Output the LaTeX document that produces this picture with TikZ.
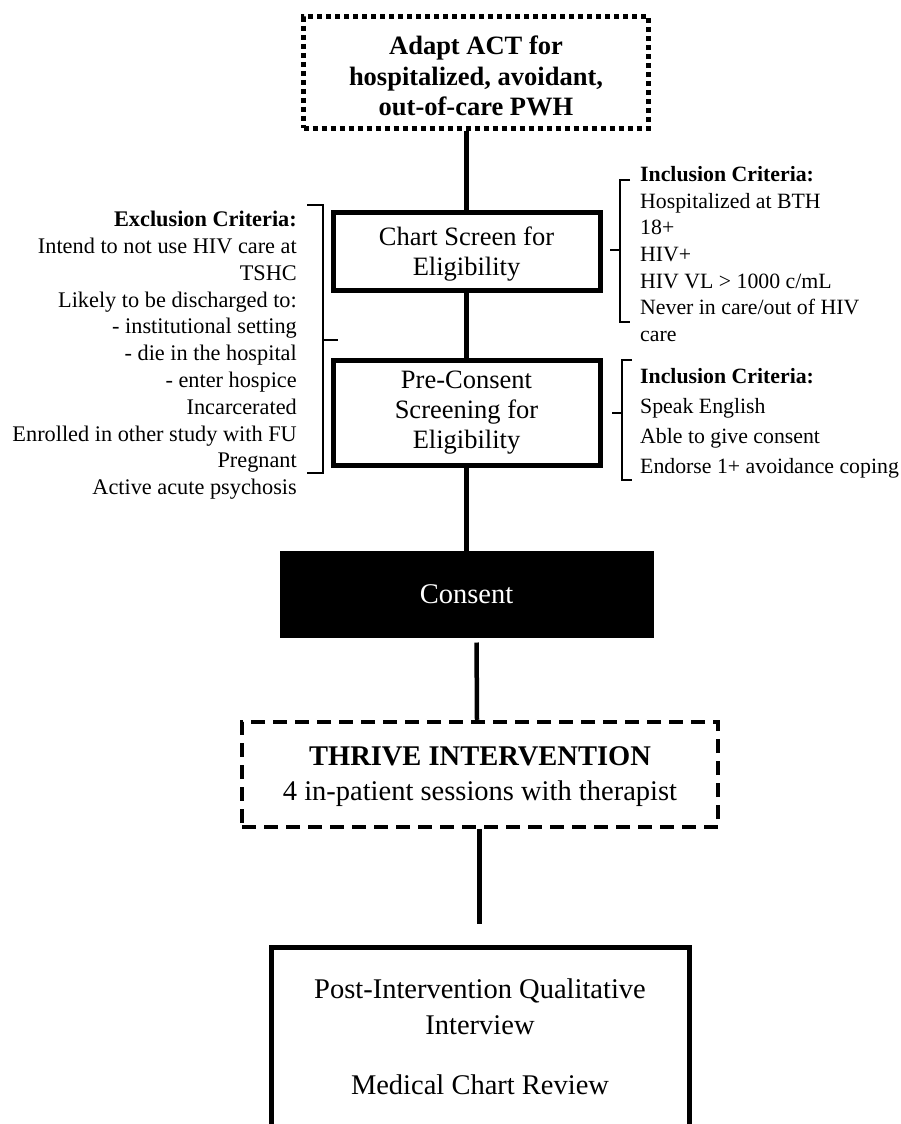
\documentclass[tikz,border=0pt]{standalone}
\usepackage{fontspec}
\setmainfont{Liberation Serif}
\usetikzlibrary{positioning, calc}

% taller first line, pushes the text of a box down a little
\newcommand{\raisestrut}[1]{\rule{0pt}{#1}}

\begin{document}
\begin{tikzpicture}[
    x=1pt, y=-1pt,
    wire/.style={
        draw=black,
        line width=5pt
    },
    box/.style={
        draw=black,
        line width=5pt,
        align=center,
        inner sep=0pt,
        font=\fontsize{26.5}{30}\selectfont
    },
    criteria/.style={
        inner sep=0pt,
        font=\fontsize{22.3}{26.8}\selectfont
    },
    bracket/.style={
        draw=black,
        line width=1.8pt
    }
]

\useasboundingbox (0,0) rectangle (901,1124);
\clip (0,0) rectangle (901,1124);

% ============================================================
% ADAPT
% ============================================================

\node[
    box,
    dash pattern=on 5pt off 4pt,
    minimum width=345pt,
    minimum height=111pt,
    font=\fontsize{26.5}{30.5}\selectfont\bfseries
] (adapt) at (476,72.5)
{\raisestrut{26pt}Adapt ACT for\\hospitalized, avoidant,\\out-of-care PWH};

% ============================================================
% SCREENING
% ============================================================

\node[
    box,
    minimum width=267pt,
    minimum height=78pt
] (chart) at (466.5,251)
{\raisestrut{24pt}Chart Screen for\\Eligibility};

\node[
    box,
    minimum width=267pt,
    minimum height=105pt
] (precons) at (466.5,412.5)
{Pre-Consent\\Screening for\\Eligibility};

% Exclusion
\node[
    criteria,
    align=right,
    anchor=north east
] (excl) at (297,211)
{\textbf{Exclusion Criteria:}\\
Intend to not use HIV care at\\
TSHC\\
Likely to be discharged to:\\
- institutional setting\\
- die in the hospital\\
- enter hospice\\
Incarcerated\\
Enrolled in other study with FU\\
Pregnant\\
Active acute psychosis};

\draw[bracket] (307,205) -- (323,205) -- (323,473) -- (307,473);
\draw[bracket] (323,340) -- (338,340);

% Inclusion
\node[
    criteria,
    align=left,
    anchor=north west,
    font=\fontsize{21.8}{26.7}\selectfont
] (incl1) at (640,166)
{\textbf{Inclusion Criteria:}\\
Hospitalized at BTH\\
18+\\
HIV+\\
HIV VL > 1000 c/mL\\
Never in care/out of HIV\\
care};

\draw[bracket] (630,180) -- (620,180) -- (620,322) -- (630,322);
\draw[bracket] (610,250) -- (620,250);

\node[
    criteria,
    align=left,
    anchor=north west,
    font=\fontsize{21.8}{30}\selectfont
] (incl2) at (640,368)
{\textbf{Inclusion Criteria:}\\
Speak English\\
Able to give consent\\
Endorse 1+ avoidance coping};

\draw[bracket] (632,360) -- (622,360) -- (622,480) -- (632,480);
\draw[bracket] (612,413) -- (622,413);

% ============================================================
% CONSENT + INTERVENTION
% ============================================================

\node[
    box,
    fill=black,
    text=white,
    line width=1pt,
    minimum width=373pt,
    minimum height=86pt,
    font=\fontsize{28.5}{34}\selectfont
] (consent) at (466.5,594)
{Consent};

\node[
    box,
    line width=4.5pt,
    dash pattern=on 14pt off 8pt,
    minimum width=476pt,
    minimum height=105pt,
    font=\fontsize{28.5}{35.5}\selectfont
] (thrive) at (480,774.5)
{\raisestrut{23pt}\textbf{THRIVE INTERVENTION}\\4 in-patient sessions with therapist};

% Entrevista
\node[
    box,
    anchor=north,
    minimum width=418pt,
    inner ysep=31pt,
    text depth=90pt,
    font=\fontsize{28.5}{36}\selectfont
] (post) at (480,945)
{Post-Intervention Qualitative\\Interview\\[24pt]Medical Chart Review};

% Ligacoes
\draw[wire] (adapt.south -| chart.north) -- (chart.north);
\draw[wire] (chart.south) -- (precons.north);
\draw[wire] (precons.south) -- (consent.north);
\draw[wire, line width=4.5pt, shorten <=5pt] ($(consent.south)+(10,0)$) -- ($(thrive.north)+(-3,0)$);
\draw[wire, shorten >=21pt] ($(thrive.south)+(-1,0)$) -- ($(post.north)+(-1,0)$);

\end{tikzpicture}
\end{document}
